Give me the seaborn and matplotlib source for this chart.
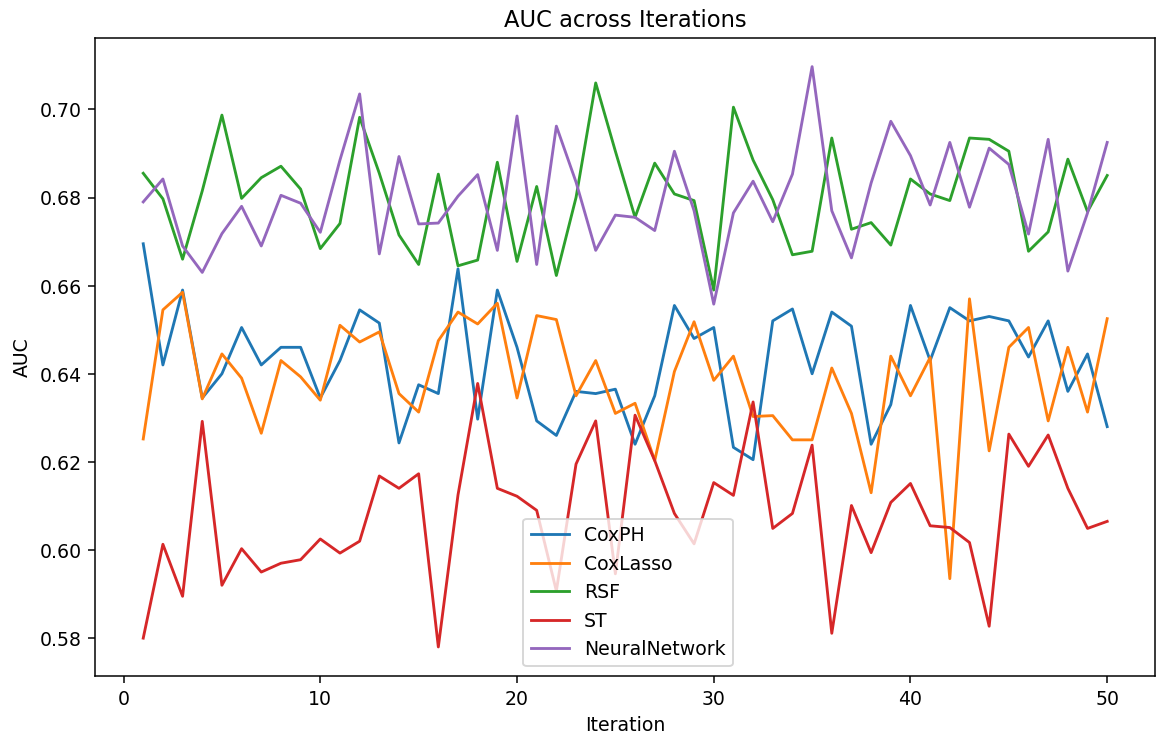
import matplotlib
matplotlib.use("Agg")
import matplotlib.pyplot as plt
import seaborn as sns
import pandas as pd
import numpy as np

iterations = list(range(1, 51))

coxph = [0.6695, 0.642, 0.659, 0.6345, 0.640, 0.6505, 0.642, 0.646, 0.646, 0.6345,
         0.643, 0.6545, 0.6515, 0.6243, 0.6375, 0.6355, 0.6638, 0.6297, 0.659, 0.646,
         0.6293, 0.626, 0.636, 0.6355, 0.6365, 0.624, 0.635, 0.6555, 0.648, 0.6505,
         0.6233, 0.6205, 0.652, 0.6547, 0.640, 0.654, 0.6508, 0.624, 0.633, 0.6555,
         0.643, 0.655, 0.652, 0.653, 0.652, 0.6438, 0.652, 0.636, 0.6445, 0.628]

coxlasso = [0.6252, 0.6545, 0.6585, 0.6343, 0.6445, 0.639, 0.6265, 0.643, 0.6393, 0.634,
            0.651, 0.6472, 0.6495, 0.6355, 0.6313, 0.6475, 0.654, 0.6513, 0.656, 0.6345,
            0.6532, 0.6523, 0.635, 0.643, 0.631, 0.6333, 0.6203, 0.6405, 0.6518, 0.6385,
            0.644, 0.6303, 0.6305, 0.625, 0.625, 0.6413, 0.631, 0.613, 0.644, 0.635,
            0.6437, 0.5935, 0.657, 0.6225, 0.646, 0.6505, 0.6293, 0.646, 0.6313, 0.6525]

rsf = [0.6855, 0.6797, 0.666, 0.6815, 0.6987, 0.6798, 0.6845, 0.6871, 0.6819, 0.6684,
       0.6741, 0.6982, 0.6855, 0.6715, 0.6648, 0.6853, 0.6645, 0.6658, 0.688, 0.6655,
       0.6825, 0.6623, 0.680, 0.706, 0.6905, 0.6755, 0.6878, 0.6808, 0.6793, 0.659,
       0.7005, 0.6885, 0.6795, 0.667, 0.6678, 0.6935, 0.6728, 0.6743, 0.6692, 0.6842,
       0.6808, 0.6793, 0.6935, 0.6932, 0.6905, 0.6678, 0.6722, 0.6887, 0.6768, 0.685]

st = [0.580, 0.6013, 0.5895, 0.6292, 0.592, 0.6003, 0.595, 0.597, 0.5978, 0.6025,
      0.5993, 0.602, 0.6168, 0.614, 0.6173, 0.578, 0.6125, 0.6378, 0.614, 0.6122,
      0.609, 0.5907, 0.6195, 0.6293, 0.5946, 0.6306, 0.6203, 0.6083, 0.6014, 0.6153,
      0.6124, 0.6336, 0.6049, 0.6083, 0.6238, 0.5811, 0.6101, 0.5994, 0.6108, 0.6151,
      0.6055, 0.6051, 0.6017, 0.5827, 0.6263, 0.619, 0.6261, 0.614, 0.6049, 0.6065]

neural = [0.679, 0.6842, 0.669, 0.663, 0.6718, 0.678, 0.669, 0.6805, 0.6787, 0.6721,
          0.6885, 0.7035, 0.6672, 0.6893, 0.674, 0.6742, 0.6803, 0.6852, 0.668, 0.6985,
          0.6648, 0.6962, 0.6835, 0.668, 0.676, 0.6755, 0.6725, 0.6905, 0.677, 0.6558,
          0.6765, 0.6837, 0.6745, 0.6853, 0.7097, 0.677, 0.6663, 0.6833, 0.6973, 0.6895,
          0.6783, 0.6925, 0.6778, 0.6912, 0.6875, 0.6717, 0.6932, 0.6633, 0.6765, 0.6925]

models = ["CoxPH", "CoxLasso", "RSF", "ST", "NeuralNetwork"]
series = [coxph, coxlasso, rsf, st, neural]

df = pd.DataFrame({
    "Iteration": np.tile(iterations, len(models)),
    "AUC": np.concatenate(series),
    "Model": np.repeat(models, len(iterations)),
})

DPI = 136
fig = plt.figure(figsize=(1158.4 / DPI, 738.4 / DPI), dpi=DPI)
ax = fig.add_axes([95 / 1158, 1 - 676 / 738, (1155 - 95) / 1158, (676 - 38) / 738])

palette = sns.color_palette("tab10", 5)
sns.lineplot(data=df, x="Iteration", y="AUC", hue="Model", hue_order=models,
             palette=palette, ax=ax, linewidth=1.5)

ax.set_title("AUC across Iterations")
ax.set_xlabel("Iteration")
ax.set_ylabel("AUC")
ax.set_xticks([0, 10, 20, 30, 40, 50])
ax.set_yticks([0.58, 0.60, 0.62, 0.64, 0.66, 0.68, 0.70])

sns.move_legend(ax, loc="lower left", bbox_to_anchor=(0.4038, 0.015),
                borderaxespad=0, title=None, frameon=True)

fig.savefig("out.png", dpi=DPI)
